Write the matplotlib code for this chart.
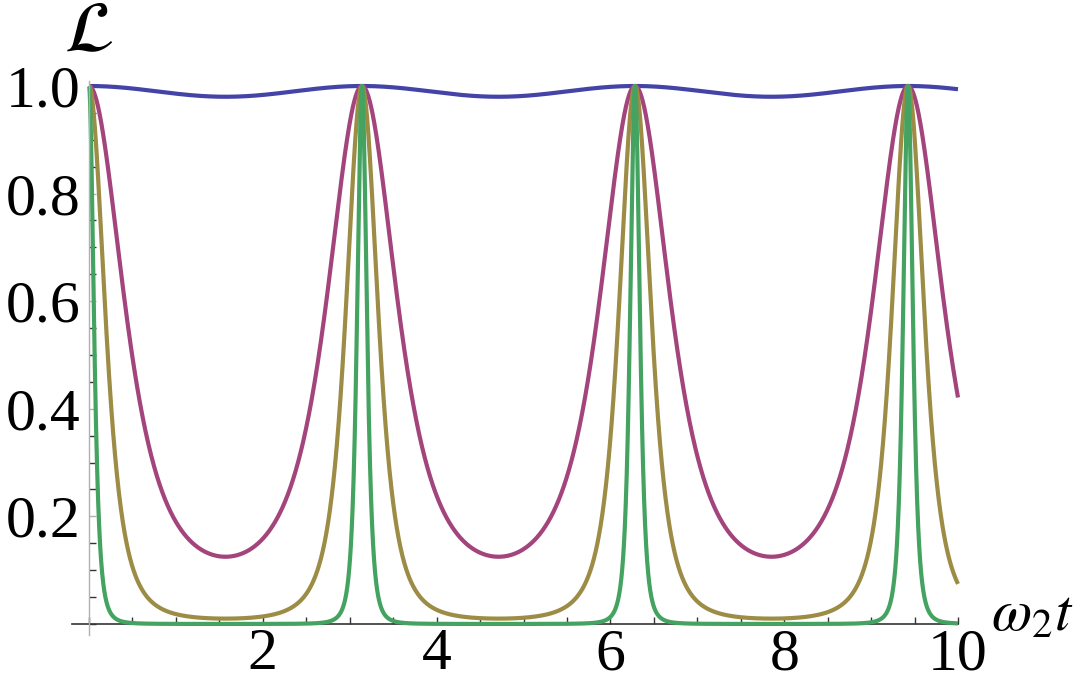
import numpy as np
import matplotlib
matplotlib.use("Agg")
import matplotlib.pyplot as plt
from matplotlib.ticker import MultipleLocator, FixedLocator

plt.rcParams['mathtext.fontset'] = 'stix'
plt.rcParams['font.family'] = ['Liberation Serif', 'DejaVu Serif']

# curve minima (value of L at w2 t = pi/2)
curve_minima = [0.98, 0.125, 0.01, 0.0001]
curve_colors = ['#4343a8', '#a3447c', '#9c8c45', '#44a360']
x_ticks = [2, 4, 6, 8, 10]
y_ticks = [0.2, 0.4, 0.6, 0.8, 1.0]
y_tick_labels = ['0.2', '0.4', '0.6', '0.8', '1.0']

t = np.linspace(0, 10, 6000)

fig = plt.figure(figsize=(10.86, 7.0), dpi=100)
# data x 0..10 -> px 89..958, y 0..1 -> px 624..86
x0, x1 = -0.2, 10.0
y0, y1 = -0.02, 1.01
px_per_x = (958 - 89) / 10.0
px_per_y = (624 - 86) / 1.0
left = 89 + x0 * px_per_x
width = (x1 - x0) * px_per_x
bottom_px = 624 - y0 * px_per_y
height = (y1 - y0) * px_per_y
ax = fig.add_axes([left / 1086, (700 - bottom_px) / 700, width / 1086, height / 700])

for m, c in zip(curve_minima, curve_colors):
    k = 1.0 / np.sqrt(m) - 1.0
    L = 1.0 / (1.0 + k * np.sin(t) ** 2) ** 2
    ax.plot(t, L, color=c, lw=3.0, solid_capstyle='butt', clip_on=False)

ax.set_xlim(x0, x1)
ax.set_ylim(y0, y1)

for s in ['top', 'right']:
    ax.spines[s].set_visible(False)
ax.spines['left'].set_position(('data', 0))
ax.spines['bottom'].set_position(('data', 0))
ax.spines['left'].set_color('#b0b0b0')
ax.spines['bottom'].set_color('#333333')
ax.spines['left'].set_linewidth(1.0)
ax.spines['bottom'].set_linewidth(1.2)
ax.spines['bottom'].set_zorder(0)

ax.xaxis.set_major_locator(FixedLocator(x_ticks))
ax.xaxis.set_minor_locator(MultipleLocator(0.5))
ax.yaxis.set_major_locator(FixedLocator(y_ticks))
ax.yaxis.set_minor_locator(MultipleLocator(0.05))
ax.set_xticklabels([str(v) for v in x_ticks])
ax.set_yticklabels(y_tick_labels)

ax.tick_params(axis='x', which='major', direction='in', length=5, width=1.0,
               color='#333333', labelsize=43, pad=3)
ax.tick_params(axis='x', which='minor', direction='in', length=5, width=1.0,
               color='#333333')
ax.tick_params(axis='y', which='major', direction='in', length=5, width=1.0,
               color='#b0b0b0', labelsize=43, pad=6)
ax.tick_params(axis='y', which='minor', direction='in', length=5, width=1.0,
               color='#333333')

ax.text(0.0, 1.065, r'$\mathcal{L}$', fontsize=52, ha='center', va='baseline',
        transform=ax.transData)
ax.text(10.38, -0.012, r'$\omega_2 t$', fontsize=42, ha='left', va='baseline',
        transform=ax.transData)

fig.savefig('out.png', dpi=100)
